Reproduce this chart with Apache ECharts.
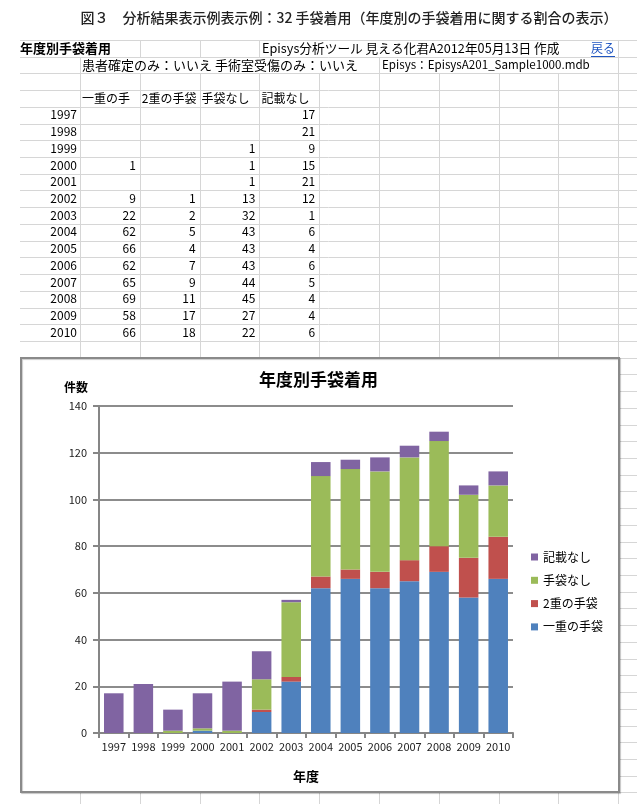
<!DOCTYPE html>
<html><head><meta charset="utf-8">
<script src="https://cdn.jsdelivr.net/npm/echarts@6/dist/echarts.min.js"></script>
<style>html,body{margin:0;padding:0;background:#fff}#c{width:637px;height:804px}</style>
</head><body><div id="c"></div>
<script>
// ---- data ----
const years = ['1997','1998','1999','2000','2001','2002','2003','2004','2005','2006','2007','2008','2009','2010'];
const singleGlove = [null,null,null,1,null,9,22,62,66,62,65,69,58,66];
const doubleGlove = [null,null,null,null,null,1,2,5,4,7,9,11,17,18];
const noGlove     = [null,null,1,1,1,13,32,43,43,43,44,45,27,22];
const notRecorded = [17,21,9,15,21,12,1,6,4,6,5,4,4,6];
const seriesNames = ['一重の手袋','2重の手袋','手袋なし','記載なし'];
const yTickValues = [0,20,40,60,80,100,120,140];
const pageTitle = '図３　分析結果表示例表示例：32 手袋着用（年度別の手袋着用に関する割合の表示）';
const sheetTitle = '年度別手袋着用';
const sheetInfo = 'Episys分析ツール 見える化君A2012年05月13日 作成';
const backLink = '戻る';
const conditions = '患者確定のみ：いいえ 手術室受傷のみ：いいえ';
const dbName = 'Episys：EpisysA201_Sample1000.mdb';

// ---- layout helpers ----
const FONT = '"Noto Sans CJK JP","Noto Sans",sans-serif';
const colX = []; for (let i = 0; i < 10; i++) colX.push(80 + i * 59.8);
const rowH = 16.72;
const rowTop = r => 40 + r * rowH;
const px = v => Math.round(v) + 0.5;
const G = [];
const GRID_C = '#d6d6d6';
function hline(y, x1, x2) { G.push({type:'line', z:-20, silent:true, shape:{x1:x1, y1:px(y), x2:x2, y2:px(y)}, style:{stroke:GRID_C, lineWidth:1}}); }
function vline(x, y1, y2) { G.push({type:'line', z:-20, silent:true, shape:{x1:px(x), y1:y1, x2:px(x), y2:y2}, style:{stroke:GRID_C, lineWidth:1}}); }
function txt(t, x, y, opt) {
  opt = opt || {};
  const st = {text:t, fontFamily:FONT, fontSize:opt.size || 12, fontWeight:opt.weight || 'normal', fill:opt.color || '#000',
    align:opt.align || 'left', textAlign:opt.align || 'left', verticalAlign:'middle', textVerticalAlign:'middle'};
  if (opt.width) { st.width = opt.width; st.overflow = 'truncate'; st.ellipsis = ''; }
  G.push({type:'text', z:-15, silent:true, x:x, y:y, style:st});
}
// horizontal sheet lines
for (let r = 0; rowTop(r) <= 804; r++) hline(rowTop(r), 20, 637);
// vertical sheet lines (rows 0,1 have overflow text hiding some lines)
const hidden = {0:[0,4,5,6,7,8], 1:[1,2,3,4,6,7,8]};
for (let r = 0; r < 2; r++) colX.forEach((x, i) => { if (hidden[r].indexOf(i) < 0) vline(x, px(rowTop(r)), px(rowTop(r + 1))); });
colX.forEach(x => vline(x, px(rowTop(2)), 804));

// page title
G.push({type:'text', z:-15, silent:true, x:349, y:18, style:{text:pageTitle, fontFamily:FONT, fontSize:14, fontWeight:500, fill:'#222', align:'center', textAlign:'center', verticalAlign:'middle', textVerticalAlign:'middle'}});
const mid = r => rowTop(r) + 8;
txt(sheetTitle, 20, mid(0), {size:13, weight:'bold'});
txt(sheetInfo, 262, mid(0), {size:12.7});
txt(backLink, 615, mid(0), {align:'right', color:'#1f55c0'});
G.push({type:'line', z:-15, silent:true, shape:{x1:591, y1:56.5, x2:615, y2:56.5}, style:{stroke:'#1f55c0', lineWidth:1}});
txt(conditions, 82, mid(1), {size:13});
txt(dbName, 382, mid(1), {size:11.6});
// header row
seriesNames.forEach((n, i) => txt(n, colX[i] + 2, mid(3), {width:colX[i + 1] - colX[i] - 2}));
// data rows
const cols = [singleGlove, doubleGlove, noGlove, notRecorded];
years.forEach((y, k) => {
  txt(y, 77, mid(4 + k), {align:'right'});
  cols.forEach((arr, i) => { if (arr[k] != null) txt(String(arr[k]), colX[i + 1] - 4, mid(4 + k), {align:'right'}); });
});
// chart frame
G.push({type:'rect', z:-10, silent:true, shape:{x:21, y:358, width:598, height:434},
  style:{fill:'#fff', stroke:'#8a8a8a', lineWidth:2, shadowColor:'rgba(0,0,0,0.2)', shadowBlur:1, shadowOffsetX:1, shadowOffsetY:1}});

const colors = ['#4F81BD','#C0504D','#9BBB59','#8064A2'];
const AX = '#868686';
const chart = echarts.init(document.getElementById('c'), null, {renderer:'canvas'});
chart.setOption({
  animation:false,
  backgroundColor:'#fff',
  textStyle:{fontFamily:FONT},
  graphic:{elements:G},
  title:{text:'年度別手袋着用', left:'center', top:366, textStyle:{fontSize:17, fontWeight:'bold', color:'#000', fontFamily:FONT}},
  legend:{orient:'vertical', left:531, top:551, padding:0, itemGap:11.3, itemWidth:7, itemHeight:7, icon:'rect',
    data:seriesNames.slice().reverse(), textStyle:{fontSize:12, color:'#000', fontFamily:FONT}},
  grid:{left:99, top:406, width:414, height:327},
  xAxis:{type:'category', data:years, name:'年度', nameLocation:'middle', nameGap:37,
    nameTextStyle:{fontSize:13, fontWeight:'bold', color:'#000'},
    axisLine:{lineStyle:{color:AX, width:2}},
    axisTick:{show:true, alignWithLabel:false, length:5, lineStyle:{color:AX, width:2}},
    axisLabel:{fontSize:11, color:'#222', margin:8, interval:0}},
  yAxis:{type:'value', min:yTickValues[0], max:yTickValues[yTickValues.length - 1], interval:yTickValues[1] - yTickValues[0],
    name:'件数', nameLocation:'end', nameGap:13,
    nameTextStyle:{fontSize:12, fontWeight:'bold', color:'#000', align:'right', padding:[0,11,0,0]},
    axisLine:{show:true, lineStyle:{color:AX, width:2}},
    axisTick:{show:true, length:6, lineStyle:{color:AX, width:2}},
    splitLine:{lineStyle:{color:'#8c8c8c', width:2}},
    axisLabel:{fontSize:11, color:'#222', margin:12}},
  series:cols.map((arr, i) => ({name:seriesNames[i], type:'bar', stack:'total', barWidth:'66%', data:arr, itemStyle:{color:colors[i]}}))
});
</script></body></html>
